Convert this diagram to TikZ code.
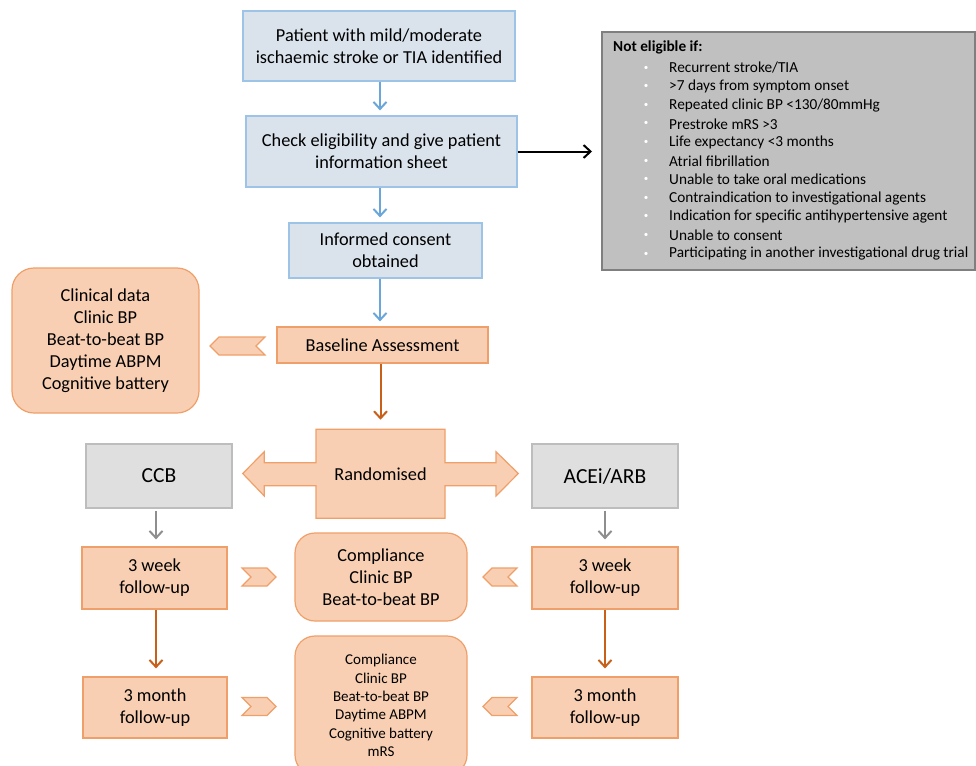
\documentclass[tikz,border=0pt]{standalone}
\usepackage{fontspec}
\setmainfont{Carlito}
\usetikzlibrary{arrows.meta,calc}
\definecolor{bfill}{HTML}{DAE3EC}
\definecolor{bline}{HTML}{9DC3E6}
\definecolor{barrow}{HTML}{6BA6DA}
\definecolor{pfill}{HTML}{F8CFB2}
\definecolor{pline}{HTML}{EFA06A}
\definecolor{oarrow}{HTML}{C8601A}
\definecolor{gfill}{HTML}{DFDFDF}
\definecolor{gline}{HTML}{BDBDBD}
\definecolor{garrow}{HTML}{8E8E8E}
\definecolor{nfill}{HTML}{C0C0C0}
\definecolor{nline}{HTML}{7F7F7F}
\tikzset{
  base/.style={inner sep=0pt, align=center, font=\fontsize{18.3}{22}\selectfont, line width=1.2pt},
  sz/.style n args={2}{minimum width=#1pt, minimum height=#2pt},
  bluebox/.style={base, draw=bline, fill=bfill},
  peach/.style={base, draw=pline, fill=pfill},
  pround/.style={peach, rounded corners=22pt},
  graybox/.style={base, draw=gline, fill=gfill, font=\fontsize{21.5}{26}\selectfont},
  conn/.style={line width=2pt, -{Straight Barb[length=7pt,width=13pt]}},
  chevshape/.style={draw=pline, fill=pfill, line width=1.2pt},
  small/.style={font=\fontsize{15}{18.4}\selectfont},
  listtext/.style={font=\fontsize{15.3}{18.6}\selectfont}
}
\newcommand\chevleft[4]{% cx, cy, w, h  (tip on the left)
  \path[chevshape] ({#1-#3/2},#2) -- ({#1-#3/2+9},{#2-#4/2}) -- ({#1+#3/2},{#2-#4/2})
    -- ({#1+#3/2-9},#2) -- ({#1+#3/2},{#2+#4/2}) -- ({#1-#3/2+9},{#2+#4/2}) -- cycle;}
\newcommand\chevright[4]{% tip on the right
  \path[chevshape] ({#1+#3/2},#2) -- ({#1+#3/2-9},{#2-#4/2}) -- ({#1-#3/2},{#2-#4/2})
    -- ({#1-#3/2+9},#2) -- ({#1-#3/2},{#2+#4/2}) -- ({#1+#3/2-9},{#2+#4/2}) -- cycle;}
\begin{document}
\begin{tikzpicture}[x=1pt,y=-1pt]
\useasboundingbox (0,0) rectangle (976,765);
\clip (0,0) rectangle (976,765);
\fill[white] (0,0) rectangle (976,765);

% top flow
\node[bluebox, sz={272}{70}] (b1) at (379,46) {Patient with mild/moderate\\ischaemic stroke or TIA identified};
\node[bluebox, sz={271}{71}] (b2) at (381.5,151.5) {Check eligibility and give patient\\information sheet};
\node[bluebox, sz={193}{55}] (b3) at (385.5,250.5) {Informed consent\\obtained};
\node[peach, sz={211}{36}] (ba) at (382.5,345) {Baseline Assessment};
\node[pround, sz={187}{145}] (cd) at (105.5,340.5) {Clinical data\\Clinic BP\\Beat-to-beat BP\\Daytime ABPM\\Cognitive battery};

% not eligible box
\node[draw=nline, fill=nfill, line width=2pt, sz={373}{238}, inner sep=0pt] (ne) at (788.5,151) {};
\node[anchor=west, inner sep=0pt, font=\fontsize{15.3}{18.6}\selectfont\bfseries] (net) at (613,47) {Not eligible if:};
\foreach \t [count=\i from 0] in {Recurrent stroke/TIA, >7 days from symptom onset, Repeated clinic BP <130/80mmHg, Prestroke mRS >3, Life expectancy <3 months, Atrial fibrillation, Unable to take oral medications, Contraindication to investigational agents, Indication for specific antihypertensive agent, Unable to consent, Participating in another investigational drug trial}{
  \node[anchor=west, inner sep=0pt, listtext] (ne\i) at (669,{68+18.6*\i}) {\t};
  \node[inner sep=0pt, white, font=\fontsize{9}{9}\selectfont] (bu\i) at (646,{68+18.6*\i}) {•};
}

% randomised shape
\path[chevshape] (316,429.3) -- (445,429.3) -- (445,462.7) -- (496,462.7) -- (496,451.7)
  -- (518.3,473.5) -- (496,496) -- (496,485.7) -- (445,485.7) -- (445,518.3) -- (316,518.3)
  -- (316,485.7) -- (264.3,485.7) -- (264.3,496) -- (242.7,473.5) -- (264.3,451.7)
  -- (264.3,462.7) -- (316,462.7) -- cycle;
\node[base, sz={129}{89}] (rand) at (380.5,473.8) {Randomised};

\node[graybox, sz={146}{64}] (ccb) at (159,476) {CCB};
\node[graybox, sz={146}{64}] (ace) at (605,476) {ACEi/ARB};

\node[peach, sz={145}{62}] (w3l) at (154.5,578) {3 week\\follow-up};
\node[peach, sz={146}{62}] (w3r) at (605,578) {3 week\\follow-up};
\node[peach, sz={144}{61}] (m3l) at (155,707.5) {3 month\\follow-up};
\node[peach, sz={146}{61}] (m3r) at (605,707.5) {3 month\\follow-up};

\node[pround, rounded corners=20pt, sz={172}{88}] (c1) at (381,577) {Compliance\\Clinic BP\\Beat-to-beat BP};
\node[pround, rounded corners=20pt, sz={172}{139}, small] (c2) at (381,705.5) {Compliance\\Clinic BP\\Beat-to-beat BP\\Daytime ABPM\\Cognitive battery\\mRS};

% chevrons
\chevleft{237.5}{346}{55}{18}
\chevright{259}{577}{34}{18}
\chevleft{500}{577}{34}{18}
\chevright{259}{706.5}{34}{18}
\chevleft{500}{706.5}{34}{18}

% connectors
\coordinate (ax) at (380,0);
\coordinate (cl) at (156,0);
\coordinate (cr) at (605,0);
\draw[conn, barrow, shorten >=5pt] (ax |- b1.south) -- (ax |- b2.north);
\draw[conn, barrow, shorten >=5pt] (ax |- b2.south) -- (ax |- b3.north);
\draw[conn, barrow, shorten >=5pt] (ax |- b3.south) -- (ax |- ba.north);
\draw[conn, black, shorten >=9pt] (b2.east) -- (b2.east -| ne.west);
\draw[conn, oarrow, shorten >=9pt] (ba.south -| rand) -- (rand.north);
\draw[conn, garrow, shorten <=2pt, shorten >=7pt] (cl |- ccb.south) -- (cl |- w3l.north);
\draw[conn, garrow, shorten <=2pt, shorten >=7pt] (cr |- ace.south) -- (cr |- w3r.north);
\draw[conn, oarrow, shorten >=8pt] (cl |- w3l.south) -- (cl |- m3l.north);
\draw[conn, oarrow, shorten >=8pt] (cr |- w3r.south) -- (cr |- m3r.north);
\end{tikzpicture}
\end{document}
